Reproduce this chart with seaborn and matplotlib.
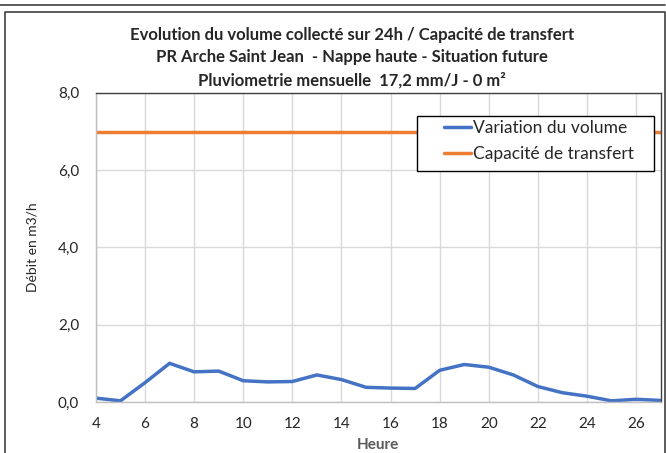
import numpy as np
import pandas as pd
import seaborn as sns
import matplotlib.pyplot as plt
from matplotlib.lines import Line2D
from matplotlib.patches import Rectangle
from matplotlib.ticker import FuncFormatter

# hourly values
heures = [4, 5, 6, 7, 8, 9, 10, 11, 12, 13, 14, 15, 16, 17, 18, 19, 20, 21, 22, 23, 24, 25, 26, 27]
volume = [0.10, 0.03, 0.50, 1.00, 0.78, 0.80, 0.55, 0.52, 0.53, 0.70, 0.58, 0.38, 0.36, 0.35,
          0.82, 0.97, 0.90, 0.70, 0.40, 0.24, 0.15, 0.03, 0.07, 0.04]
capacite = [7.0] * len(heures)

titre = ("Evolution du volume collecté sur 24h / Capacité de transfert\n"
         "PR Arche Saint Jean  - Nappe haute - Situation future\n"
         "Pluviometrie mensuelle  17,2 mm/J - 0 m²")

df = pd.DataFrame({"Heure": heures, "Variation du volume": volume,
                   "Capacité de transfert": capacite})

sns.set_style("white")
plt.rcParams['font.family'] = ['Lato', 'DejaVu Sans']

fig = plt.figure(figsize=(6.66, 4.53), dpi=100)
ax = fig.add_axes([0.144, 0.1126, 0.848, 0.6824])

sns.lineplot(data=df, x="Heure", y="Variation du volume", ax=ax, color='#4472C4',
             lw=2.5, label="Variation du volume")
sns.lineplot(data=df, x="Heure", y="Capacité de transfert", ax=ax, color='#ED7D31',
             lw=2.5, label="Capacité de transfert")

ax.set_xlim(4, 27)
ax.set_ylim(0, 8)
ax.set_xticks(range(4, 27, 2))
ax.set_yticks(range(0, 9, 2))
ax.yaxis.set_major_formatter(FuncFormatter(lambda v, p: f"{v:.1f}".replace('.', ',')))
ax.grid(True, color='#d9d9d9', lw=1)
ax.set_axisbelow(True)
ax.tick_params(axis='x', labelsize=11, length=0, pad=11)
ax.tick_params(axis='y', labelsize=11, length=0, pad=12)

for s in ['top', 'right']:
    ax.spines[s].set_color('#404040')
    ax.spines[s].set_linewidth(1)
for s in ['left', 'bottom']:
    ax.spines[s].set_color('#bfbfbf')
    ax.spines[s].set_linewidth(1)

ax.set_xlabel("Heure", fontsize=11, fontweight='bold', color='#595959', labelpad=5)
ax.set_ylabel("Débit en m3/h", fontsize=10, labelpad=14)

fig.suptitle(titre, x=0.529, fontsize=12, fontweight='bold', y=0.941, linespacing=1.5)

# legend box (Excel style, wide padding)
ax.add_patch(Rectangle((0.568, 0.748), 0.420, 0.178, transform=ax.transAxes,
                       facecolor='white', edgecolor='black', lw=1, zorder=4.5))
leg = ax.legend(loc='upper left', bbox_to_anchor=(0.608, 0.926), fontsize=12.5,
                frameon=False, handlelength=1.55, handletextpad=0.15,
                borderpad=0.25, labelspacing=0.55, borderaxespad=0)
leg.set_zorder(5)

# chart frame lines
fig.add_artist(Line2D([0.0075, 0.0075, 0.9985, 0.9985], [0.0, 0.9735, 0.9735, 0.0],
                      transform=fig.transFigure, color='#404040', lw=1.2))
fig.add_artist(Line2D([0.0, 0.9985], [0.989, 0.989], transform=fig.transFigure,
                      color='#404040', lw=1.2))

fig.savefig("out.png", dpi=100)
